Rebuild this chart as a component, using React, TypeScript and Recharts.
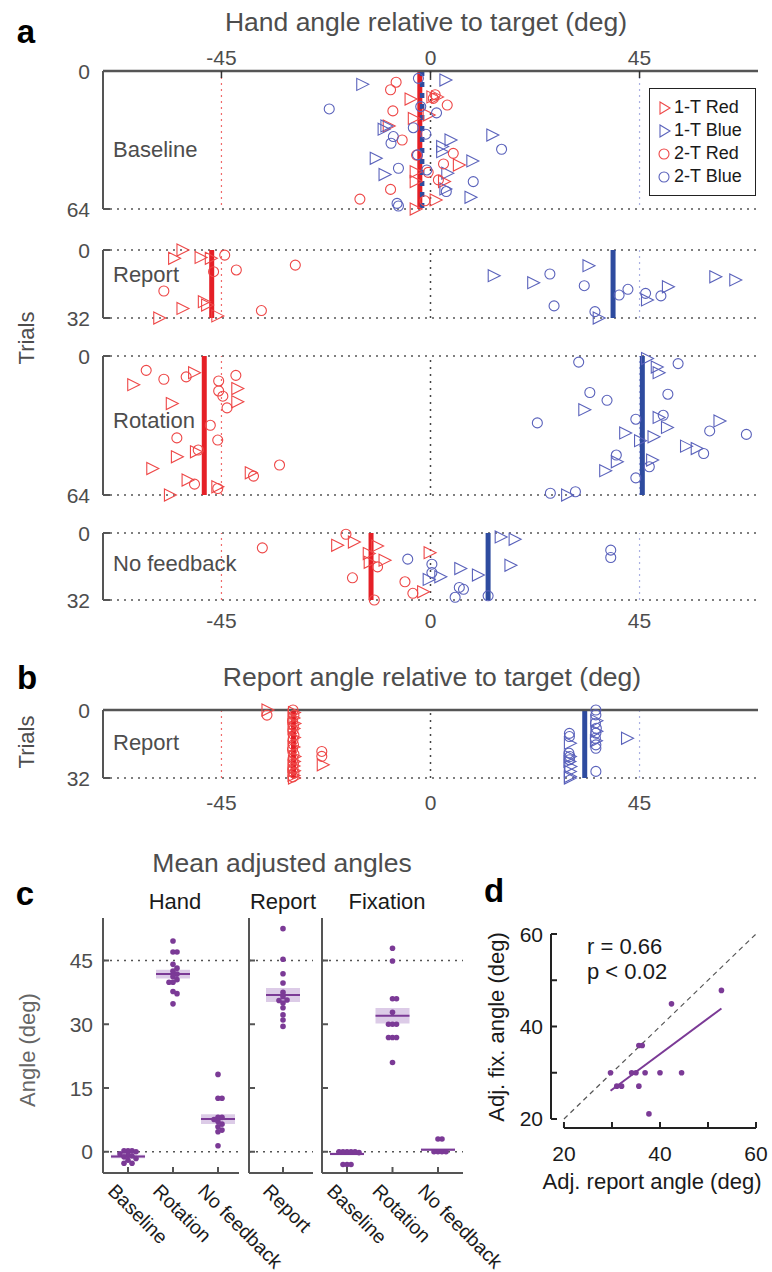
import React from 'react';
import {
  ScatterChart,
  Scatter,
  XAxis,
  YAxis,
  ReferenceLine,
  ReferenceArea,
  Legend,
} from 'recharts';

type Pt = [number, number]; // [angle (deg), trial]

// ---- panel a: hand angle per trial ----
const baseRedTri: Pt[] = [
  [-4.4, 13], [-3.7, 22], [0.3, 12], [1.3, 12], [-0.5, 20.4], [6, 43.6], [-3.3, 46.7],
  [-3.3, 51.3], [2.8, 51.3], [1, 59.8], [-3.3, 64], [-9.1, 25.5],
];
const baseBlueTri: Pt[] = [
  [-14.8, 6.2], [3.1, 4.2], [-9.6, 25.5], [-10.2, 27], [-11.9, 40.5], [-10, 48], [13.2, 29.7],
  [4.2, 32], [2.4, 35], [2.4, 37.4], [8.9, 41.7], [8.5, 58.6], [3.1, 54.7], [3.5, 47.4],
];
const baseRedCirc: Pt[] = [
  [-7.4, 5.2], [-8.6, 8.7], [-8.1, 18.5], [-6.1, 32], [4.9, 38.2], [2.8, 43.1], [1.7, 50.5],
  [-8.6, 54.9], [-15.2, 59.4], [3.6, 15.8], [1, 11], [0.6, 12.7], [-1.2, 60.2], [-3, 39], [-0.5, 47],
];
const baseBlueCirc: Pt[] = [
  [-21.8, 17.6], [-2.6, 3.4], [-2.1, 16.5], [1.3, 19.4], [-3.7, 26.3], [-8, 30.4], [-8.5, 33.5],
  [-1, 29.3], [-6.9, 45.1], [-0.8, 45.9], [-2.8, 38.9], [-7.2, 61.4], [-6.9, 62.6], [9.2, 51.3],
  [3.4, 55.9], [15.3, 36.3],
];

const repRedTri: Pt[] = [
  [-53.5, 0], [-55.3, 3.9], [-49.6, 3.5], [-47.4, 3.9], [-53.5, 27.5], [-48.9, 24.3], [-48.2, 25.9],
  [-58.5, 32], [-46, 31],
];
const repRedCirc: Pt[] = [[-44.3, 2.4], [-46.7, 10.2], [-41.8, 9.4], [-29.1, 7.1], [-57.4, 19.3], [-36.4, 28.5]];
const repBlueTri: Pt[] = [
  [13.5, 12.1], [22, 15.4], [33.9, 7.4], [46.5, 23.5], [51, 17.3], [61.2, 12.6], [65.5, 14.1], [36.1, 32],
];
const repBlueCirc: Pt[] = [
  [25.7, 11.3], [26.6, 26.3], [33.1, 16.8], [35.4, 29], [40.6, 21.2], [42.5, 18.5], [46.3, 20.4], [49.6, 21.6],
];

const rotRedTri: Pt[] = [
  [-64.1, 13.2], [-55.8, 21.9], [-51, 7.7], [-41.7, 15], [-41.7, 21.1], [-54.7, 46.4], [-60, 51.8],
  [-50.6, 44.1], [-52.4, 57.1], [-38.8, 53.8], [-56.2, 64], [-46, 60.2],
];
const rotRedCirc: Pt[] = [
  [-61.2, 6.6], [-57.4, 10.7], [-52.6, 9.6], [-45.6, 11.5], [-45.6, 16.1], [-44.7, 18.5], [-41.9, 8.9],
  [-43.8, 23.9], [-47.4, 31.9], [-54.6, 37.7], [-45.8, 38.7], [-50, 43.3], [-32.5, 50.2], [-38.1, 55.3],
  [-50.8, 59], [-45.8, 61],
];
const rotBlueTri: Pt[] = [
  [46.5, 1.2], [48.6, 5.1], [49, 7.7], [33, 24.7], [41.8, 35.4], [49, 28.3], [50.8, 32.9], [47.9, 37.2],
  [62.1, 29.9], [54.9, 41.5], [57.2, 42.6], [47.6, 47.9], [40, 48.7], [37.5, 52.8], [29.3, 64], [45, 39],
];
const rotBlueCirc: Pt[] = [
  [31.9, 2.8], [53.3, 3.5], [34.3, 16.8], [38, 20.4], [51.1, 17.6], [23, 30.8], [44.2, 29.1], [50.1, 27.3],
  [60.1, 34.5], [68, 36.1], [40, 45.6], [58.8, 44.9], [47.1, 51], [44.2, 56.1], [25.8, 63.2], [31.2, 62.5],
];

const nfRedTri: Pt[] = [
  [-20.2, 5.9], [-16.6, 4.3], [-11.6, 6.2], [-0.3, 9.4], [-13.4, 9.8], [-10, 13], [-1.7, 28.1], [-13.2, 14],
];
const nfRedCirc: Pt[] = [[-18.2, 0.6], [-36.2, 7.1], [-16.8, 21.4], [-11.4, 16.2], [-5.5, 23.3], [-3.8, 28.8], [-12.1, 32]];
const nfBlueTri: Pt[] = [[15, 1.9], [18, 3], [6.3, 17], [10.1, 20.1], [17.1, 15.4], [2, 20.9], [-0.5, 22.2]];
const nfBlueCirc: Pt[] = [
  [-4.9, 12.5], [0.3, 18.9], [6.2, 26], [7.1, 26.9], [5.3, 30.7], [12.4, 30], [38.8, 8.2], [38.8, 11.7], [0.3, 14.9],
];

// block means: Baseline, Report, Rotation, No feedback
const handMeanRed = [-2.3, -47.1, -48.7, -12.8];
const handMeanBlue = [-1.8, 39.3, 45.6, 12.4];

// ---- panel b: report angle ----
const bRedCirc: Pt[] = [
  [-29.6, 0], [-29.4, 2.5], [-29.7, 5], [-29.5, 7.2], [-29.6, 9.5], [-29.4, 11.8], [-29.6, 14], [-29.5, 16.3],
  [-29.7, 18.5], [-29.4, 20.8], [-29.6, 23], [-29.5, 25.3], [-29.6, 27.5], [-29.4, 29.7], [-29.6, 31.5],
  [-35.2, 2.4], [-23.4, 19.5], [-23.4, 21.8],
];
const bRedTri: Pt[] = [
  [-29.5, 1.2], [-29.6, 3.8], [-29.4, 6.3], [-29.6, 8.7], [-29.5, 12.9], [-29.6, 17.4], [-29.4, 21.9],
  [-29.5, 24.2], [-29.6, 26.4], [-29.5, 28.6], [-29.6, 30.8], [-29.5, 32], [-35.2, 0], [-23.3, 25.8],
];
const bBlueCirc: Pt[] = [
  [35.6, 0], [35.6, 2.3], [35.5, 6.2], [35.7, 8.6], [35.6, 10.9], [35.5, 13.3], [35.6, 16.4], [35.6, 18],
  [35.6, 28.9], [29.9, 11], [29.9, 12.5], [29.8, 20.3], [30, 21.9], [29.9, 23.4],
];
const bBlueTri: Pt[] = [
  [29.9, 15.6], [29.9, 21.9], [29.8, 24.2], [30, 26.6], [29.9, 28.9], [29.9, 31.3], [29.9, 32],
  [35.6, 5], [35.6, 10], [35.5, 14.5], [42.2, 13.3],
];
const reportMeanRed = -29.5;
const reportMeanBlue = 33.2;

// ---- panel c: mean adjusted angles per participant ----
const handCats = ['Baseline', 'Rotation', 'No feedback'];
const handBaseline = [-0.8, -1.2, 0.2, 0.2, 0.2, -1.6, -2.7, -2.7, -1.0, -0.5, -2.0, 0.0];
const handRotation = [49.6, 47, 47, 44.1, 43.2, 41.8, 41.2, 40.5, 39.9, 39.9, 37.2, 37.7, 34.8, 42.5];
const handNoFb = [18.2, 12.6, 12.6, 8.1, 8.1, 7.1, 5.9, 5.1, 4.7, 1.4, 6.5, 7.6];
const handMeans = [-1.1, 41.8, 7.7];
const handSems = [0.4, 1.05, 1.15];

const reportCats = ['Report'];
const reportVals = [52.5, 45.3, 41.9, 39.7, 37.5, 35.7, 35.6, 35, 33.9, 32.2, 31, 29.5, 36.5];
const reportMeans = [36.9];
const reportSems = [1.65];

const fixCats = ['Baseline', 'Rotation', 'No feedback'];
const fixBaseline = [0, 0, 0, 0, 0, -3, -3, -3, -0.2];
const fixRotation = [47.9, 44.9, 36, 36, 32.8, 30, 30, 30, 26.9, 26.9, 26.9, 21];
const fixNoFb = [3, 3, 0, 0, 0, 0];
const fixMeans = [-0.5, 32, 0.5];
const fixSems = [0.35, 1.85, 0.3];

// ---- panel d: report vs fixation ----
const dReport = [29.7, 31, 32, 34.1, 35, 35.6, 36.3, 35.6, 36.9, 37.7, 40, 42.4, 44.5, 52.8];
const dFix = [30, 27.1, 27.1, 30, 30, 35.9, 35.9, 27.1, 30, 21.1, 30, 44.9, 30, 47.8];
const fitX = [29.7, 52.8];
const fitY = [26.1, 43.9];

const legendOrder = ['1-T Red', '1-T Blue', '2-T Red', '2-T Blue'];

const RED = '#ee4747';
const BLUE = '#5a62bb';
const RED_MEAN = '#e51f26';
const BLUE_MEAN = '#2e4b9f';
const PURPLE = '#7b3a96';
const BAND = '#dccbe7';
const GRAY = '#4d4d4d';
const INK = '#1a1a1a';
const FONT = '"Liberation Sans", Arial, Helvetica, sans-serif';
const HAND_DOMAIN: [number, number] = [-70.5, 70.5];

const toXY = (pts: Pt[]) => pts.map(([x, y]) => ({ x, y }));

function Txt({ x, y, size = 22, color = GRAY, anchor = 'middle', rotate = 0, bold = false, children }: any) {
  const tx = anchor === 'middle' ? '-50%' : anchor === 'end' ? '-100%' : '0';
  return (
    <div
      style={{
        position: 'absolute',
        left: x,
        top: y,
        transform: `translate(${tx}, -50%) rotate(${rotate}deg)`,
        fontSize: size,
        lineHeight: 1,
        color,
        whiteSpace: 'nowrap',
        fontWeight: bold ? 700 : 400,
      }}
    >
      {children}
    </div>
  );
}

const triShape = (color: string) => (p: any) => (
  <path
    d={`M${p.cx - 5},${p.cy - 6} L${p.cx + 7},${p.cy} L${p.cx - 5},${p.cy + 6} Z`}
    fill="none"
    stroke={color}
    strokeWidth={1.1}
  />
);
const circShape = (color: string) => (p: any) => (
  <circle cx={p.cx} cy={p.cy} r={5} fill="none" stroke={color} strokeWidth={1.1} />
);
const dotShape = (p: any) => <circle cx={p.cx} cy={p.cy} r={2.8} fill={PURPLE} />;

function LegendBox({ payload }: any) {
  const entries = legendOrder.filter((n) => (payload || []).some((e: any) => e.value === n));
  return (
    <div
      style={{
        border: '1.5px solid #222',
        background: '#fff',
        padding: '7px 4px 7px 7px',
        fontFamily: FONT,
        boxSizing: 'border-box',
      }}
    >
      {entries.map((name) => {
        const c = name.includes('Red') ? RED : BLUE;
        return (
          <div key={name} style={{ display: 'flex', alignItems: 'center', height: 23, fontSize: 18, color: INK }}>
            <svg width={15} height={16} style={{ marginRight: 2 }}>
              {name.startsWith('1-T') ? (
                <path d="M3,2 L13,8 L3,14 Z" fill="none" stroke={c} strokeWidth={1.1} />
              ) : (
                <circle cx={7} cy={8} r={5} fill="none" stroke={c} strokeWidth={1.1} />
              )}
            </svg>
            {name}
          </div>
        );
      })}
    </div>
  );
}

interface TrialProps {
  top: number;
  bottom: number;
  maxTrial: number;
  redTri: Pt[];
  blueTri: Pt[];
  redCirc: Pt[];
  blueCirc: Pt[];
  meanR: number;
  meanB: number;
  topAxis?: 'labels' | 'ticks';
  bottomGap?: number;
  dottedTop?: boolean;
  legend?: boolean;
  blueDashed?: boolean;
}

function TrialPanel(props: TrialProps) {
  const { top, bottom, maxTrial, topAxis, bottomGap } = props;
  const mt = topAxis ? 10 : 40;
  const mb = bottomGap ? 10 : 40;
  const topTick = (labels: boolean) => (p: any) => (
    <g>
      <line x1={p.x} x2={p.x} y1={p.y} y2={p.y + 7} stroke="#333" strokeWidth={1.5} />
      {labels && (
        <text x={p.x} y={p.y - 14} textAnchor="middle" dominantBaseline="central" fontSize={21} fill={GRAY}>
          {p.payload.value}
        </text>
      )}
    </g>
  );
  const bottomTick = (p: any) => (
    <text x={p.x} y={p.y + (bottomGap || 0)} textAnchor="middle" dominantBaseline="central" fontSize={21} fill={GRAY}>
      {p.payload.value}
    </text>
  );
  const yTick = (p: any) => (
    <g>
      <line x1={p.x} x2={p.x + 7} y1={p.y} y2={p.y} stroke="#555" strokeWidth={2} />
      <text x={p.x - 13} y={p.y} textAnchor="end" dominantBaseline="central" fontSize={21} fill={GRAY}>
        {p.payload.value}
      </text>
    </g>
  );
  const axisCommon = {
    type: 'number' as const,
    dataKey: 'x',
    domain: HAND_DOMAIN,
    ticks: [-45, 0, 45],
    interval: 0 as const,
    tickSize: 0,
    tickMargin: 0,
    tickLine: false,
    height: 30,
  };
  const dotted = { stroke: '#555', strokeDasharray: '2 5', strokeWidth: 1.5 };
  return (
    <div style={{ position: 'absolute', left: 0, top: top - 40 }}>
      <ScatterChart width={772} height={bottom - top + 80} margin={{ top: mt, bottom: mb, left: 63, right: 14 }}>
        {topAxis === 'labels' ? (
          <XAxis {...axisCommon} orientation="top" tick={topTick(true)} axisLine={{ stroke: '#555', strokeWidth: 2.5 }} />
        ) : bottomGap ? (
          <XAxis {...axisCommon} orientation="bottom" tick={bottomTick} axisLine={false} />
        ) : (
          <XAxis {...axisCommon} hide />
        )}
        {topAxis === 'ticks' && (
          <XAxis
            {...axisCommon}
            xAxisId="top"
            orientation="top"
            tick={topTick(false)}
            axisLine={{ stroke: '#555', strokeWidth: 2.5 }}
          />
        )}
        <YAxis
          type="number"
          dataKey="y"
          domain={[0, maxTrial]}
          reversed
          ticks={[0, maxTrial]}
          interval={0}
          width={40}
          tickSize={0}
          tickMargin={0}
          tickLine={false}
          tick={yTick}
          axisLine={{ stroke: '#555', strokeWidth: 2 }}
        />
        <ReferenceLine x={-45} stroke="#f06a6a" strokeDasharray="2 4" strokeWidth={1.2} />
        <ReferenceLine x={0} stroke="#444" strokeDasharray="2 5" strokeWidth={1.5} />
        <ReferenceLine x={45} stroke="#aab0e2" strokeDasharray="2 4" strokeWidth={1.2} />
        <ReferenceLine y={maxTrial} {...dotted} />
        {props.dottedTop && <ReferenceLine y={0} {...dotted} />}
        <Scatter name="1-T Red" data={toXY(props.redTri)} shape={triShape(RED)} fill={RED} isAnimationActive={false} />
        <Scatter name="1-T Blue" data={toXY(props.blueTri)} shape={triShape(BLUE)} fill={BLUE} isAnimationActive={false} />
        <Scatter name="2-T Red" data={toXY(props.redCirc)} shape={circShape(RED)} fill={RED} isAnimationActive={false} />
        <Scatter name="2-T Blue" data={toXY(props.blueCirc)} shape={circShape(BLUE)} fill={BLUE} isAnimationActive={false} />
        <ReferenceLine x={props.meanR} stroke={RED_MEAN} strokeWidth={5} />
        <ReferenceLine
          x={props.meanB}
          stroke={BLUE_MEAN}
          strokeWidth={props.blueDashed ? 4.5 : 5}
          strokeDasharray={props.blueDashed ? '5 6' : undefined}
        />
        {props.legend && (
          <Legend
            layout="horizontal"
            verticalAlign="middle"
            align="center"
            content={LegendBox}
            wrapperStyle={{ left: 649, top: 88 - (top - 40), width: 107 }}
          />
        )}
      </ScatterChart>
    </div>
  );
}

// simple beeswarm: spread equal / near-equal values sideways (pixels)
function swarm(vals: number[], center: number, pxX: number, pxY: number) {
  const placed: { dx: number; py: number }[] = [];
  const out: { x: number; y: number }[] = [];
  for (const v of [...vals].sort((a, b) => b - a)) {
    const py = v * pxY;
    let k = 0;
    let dx = 0;
    for (;;) {
      dx = (k % 2 ? 1 : -1) * Math.ceil(k / 2) * 4;
      if (!placed.some((p) => Math.hypot(p.dx - dx, p.py - py) < 4)) break;
      k++;
    }
    placed.push({ dx, py });
    out.push({ x: center + dx / pxX, y: v });
  }
  return out;
}

const C_TOP = 918;
const C_BOTTOM = 1173;
const C_DOMAIN: [number, number] = [-5, 55];

function AnglePanel({ left, right, domain, cats, groups, means, sems, labels }: any) {
  const pxX = (right - left) / (domain[1] - domain[0]);
  const pxY = (C_BOTTOM - C_TOP) / (C_DOMAIN[1] - C_DOMAIN[0]);
  const half = 17 / pxX;
  const xTick = (p: any) => {
    const lx = p.x - 11;
    const ly = p.y + 9;
    return (
      <g>
        <line x1={p.x} x2={p.x} y1={p.y} y2={p.y - 6} stroke="#555" strokeWidth={2} />
        <text
          x={lx}
          y={ly}
          transform={`rotate(45 ${lx} ${ly})`}
          dominantBaseline="hanging"
          fontSize={19.5}
          fill={INK}
        >
          {cats[p.payload.value - 1]}
        </text>
      </g>
    );
  };
  const yTick = (p: any) => (
    <g>
      <line x1={p.x} x2={p.x + 6} y1={p.y} y2={p.y} stroke="#555" strokeWidth={2} />
      {labels && (
        <text x={p.x - 10} y={p.y} textAnchor="end" dominantBaseline="central" fontSize={21} fill={GRAY}>
          {p.payload.value}
        </text>
      )}
    </g>
  );
  const dotted = { stroke: '#555', strokeDasharray: '2 5', strokeWidth: 1.5 };
  return (
    <div style={{ position: 'absolute', left: 0, top: 880 }}>
      <ScatterChart
        width={772}
        height={392}
        margin={{ top: C_TOP - 880, bottom: 1272 - C_BOTTOM - 30, left: left - 40, right: 772 - right }}
      >
        <XAxis
          type="number"
          dataKey="x"
          domain={domain}
          ticks={cats.map((_: string, i: number) => i + 1)}
          interval={0}
          height={30}
          tickSize={0}
          tickMargin={0}
          tickLine={false}
          tick={xTick}
          axisLine={{ stroke: '#555', strokeWidth: 2 }}
        />
        <YAxis
          type="number"
          dataKey="y"
          domain={C_DOMAIN}
          ticks={[0, 15, 30, 45]}
          interval={0}
          width={40}
          tickSize={0}
          tickMargin={0}
          tickLine={false}
          tick={yTick}
          axisLine={{ stroke: '#555', strokeWidth: 2 }}
        />
        <ReferenceLine y={45} {...dotted} />
        <ReferenceLine y={0} {...dotted} />
        {means.map((m: number, i: number) => (
          <ReferenceArea
            key={`b${i}`}
            x1={i + 1 - half}
            x2={i + 1 + half}
            y1={m - sems[i]}
            y2={m + sems[i]}
            fill={BAND}
            fillOpacity={1}
            stroke="none"
          />
        ))}
        {groups.map((vals: number[], i: number) => (
          <Scatter key={`s${i}`} data={swarm(vals, i + 1, pxX, pxY)} shape={dotShape} isAnimationActive={false} />
        ))}
        {means.map((m: number, i: number) => (
          <ReferenceLine
            key={`m${i}`}
            segment={[{ x: i + 1 - half, y: m }, { x: i + 1 + half, y: m }]}
            stroke={PURPLE}
            strokeWidth={2}
          />
        ))}
      </ScatterChart>
    </div>
  );
}

const D_X: [number, number] = [17.3, 60];
const D_Y: [number, number] = [18.05, 60];

function CorrPanel() {
  const data = dReport.map((x, i) => ({ x, y: dFix[i] }));
  const yTick = (p: any) => (
    <g>
      <line x1={p.x} x2={p.x + 6} y1={p.y} y2={p.y} stroke="#222" strokeWidth={2} />
      {p.payload.value % 20 === 0 && (
        <text x={p.x - 8} y={p.y} textAnchor="end" dominantBaseline="central" fontSize={21} fill={INK}>
          {p.payload.value}
        </text>
      )}
    </g>
  );
  const xTick = (p: any) => (
    <g>
      <line x1={p.x} x2={p.x} y1={p.y} y2={p.y - 6} stroke="#222" strokeWidth={2} />
      {p.payload.value % 20 === 0 && (
        <text x={p.x} y={p.y + 25} textAnchor="middle" dominantBaseline="central" fontSize={21} fill={INK}>
          {p.payload.value}
        </text>
      )}
    </g>
  );
  return (
    <div style={{ position: 'absolute', left: 0, top: 880 }}>
      <ScatterChart width={772} height={392} margin={{ top: 54, bottom: 1272 - 1128 - 30, left: 511, right: 16 }}>
        <XAxis
          type="number"
          dataKey="x"
          domain={D_X}
          ticks={[20, 30, 40, 50, 60]}
          interval={0}
          height={30}
          tickSize={0}
          tickMargin={0}
          tickLine={false}
          axisLine={false}
          tick={xTick}
        />
        <YAxis
          type="number"
          dataKey="y"
          domain={D_Y}
          ticks={[20, 30, 40, 50, 60]}
          interval={0}
          width={40}
          tickSize={0}
          tickMargin={0}
          tickLine={false}
          axisLine={false}
          tick={yTick}
        />
        <ReferenceLine segment={[{ x: D_X[0], y: 20 }, { x: D_X[0], y: 60 }]} stroke="#222" strokeWidth={2} />
        <ReferenceLine segment={[{ x: 20, y: D_Y[0] }, { x: 60, y: D_Y[0] }]} stroke="#222" strokeWidth={2} />
        <ReferenceLine segment={[{ x: 20, y: 20 }, { x: 60, y: 60 }]} stroke="#555" strokeDasharray="5 4" strokeWidth={1.2} />
        <Scatter data={data} shape={dotShape} isAnimationActive={false} />
        <ReferenceLine
          segment={[{ x: fitX[0], y: fitY[0] }, { x: fitX[1], y: fitY[1] }]}
          stroke={PURPLE}
          strokeWidth={2}
        />
      </ScatterChart>
    </div>
  );
}

export default function App() {
  return (
    <div
      style={{
        position: 'absolute',
        left: 0,
        top: 0,
        width: 772,
        height: 1272,
        background: '#fff',
        fontFamily: FONT,
        overflow: 'hidden',
      }}
    >
      {/* a */}
      <Txt x={26} y={31} size={33} bold color="#000">a</Txt>
      <Txt x={426} y={22} size={26.5}>Hand angle relative to target (deg)</Txt>
      <Txt x={27} y={338} rotate={-90}>Trials</Txt>
      <TrialPanel
        top={71} bottom={209} maxTrial={64}
        redTri={baseRedTri} blueTri={baseBlueTri} redCirc={baseRedCirc} blueCirc={baseBlueCirc}
        meanR={handMeanRed[0]} meanB={handMeanBlue[0]} topAxis="labels" legend blueDashed
      />
      <TrialPanel
        top={250} bottom={318} maxTrial={32} dottedTop
        redTri={repRedTri} blueTri={repBlueTri} redCirc={repRedCirc} blueCirc={repBlueCirc}
        meanR={handMeanRed[1]} meanB={handMeanBlue[1]}
      />
      <TrialPanel
        top={356} bottom={495} maxTrial={64} dottedTop
        redTri={rotRedTri} blueTri={rotBlueTri} redCirc={rotRedCirc} blueCirc={rotBlueCirc}
        meanR={handMeanRed[2]} meanB={handMeanBlue[2]}
      />
      <TrialPanel
        top={533} bottom={600} maxTrial={32} dottedTop bottomGap={20}
        redTri={nfRedTri} blueTri={nfBlueTri} redCirc={nfRedCirc} blueCirc={nfBlueCirc}
        meanR={handMeanRed[3]} meanB={handMeanBlue[3]}
      />
      <Txt x={113} y={150} anchor="start">Baseline</Txt>
      <Txt x={113} y={275} anchor="start">Report</Txt>
      <Txt x={113} y={421} anchor="start">Rotation</Txt>
      <Txt x={113} y={564} anchor="start">No feedback</Txt>

      {/* b */}
      <Txt x={27} y={677} size={33} bold color="#000">b</Txt>
      <Txt x={432} y={677} size={26.5}>Report angle relative to target (deg)</Txt>
      <Txt x={27} y={742} rotate={-90}>Trials</Txt>
      <TrialPanel
        top={710} bottom={778} maxTrial={32} topAxis="ticks" bottomGap={24}
        redTri={bRedTri} blueTri={bBlueTri} redCirc={bRedCirc} blueCirc={bBlueCirc}
        meanR={reportMeanRed} meanB={reportMeanBlue}
      />
      <Txt x={113} y={743} anchor="start">Report</Txt>

      {/* c */}
      <Txt x={282} y={863} size={26.5}>Mean adjusted angles</Txt>
      <Txt x={25} y={893} size={33} bold color="#000">c</Txt>
      <Txt x={175} y={902} color={INK}>Hand</Txt>
      <Txt x={283} y={902} color={INK}>Report</Txt>
      <Txt x={387} y={902} color={INK}>Fixation</Txt>
      <Txt x={28} y={1050} rotate={-90} color="#666">Angle (deg)</Txt>
      <AnglePanel
        left={103} right={239} domain={[0.444, 3.467]} cats={handCats} labels
        groups={[handBaseline, handRotation, handNoFb]} means={handMeans} sems={handSems}
      />
      <AnglePanel
        left={249} right={313} domain={[0.244, 1.667]} cats={reportCats}
        groups={[reportVals]} means={reportMeans} sems={reportSems}
      />
      <AnglePanel
        left={322} right={463} domain={[0.45, 3.55]} cats={fixCats}
        groups={[fixBaseline, fixRotation, fixNoFb]} means={fixMeans} sems={fixSems}
      />

      {/* d */}
      <Txt x={494} y={890} size={33} bold color="#000">d</Txt>
      <CorrPanel />
      <Txt x={587} y={947} anchor="start" color={INK}>r = 0.66</Txt>
      <Txt x={587} y={972} anchor="start" color={INK}>p &lt; 0.02</Txt>
      <Txt x={497} y={1027} rotate={-90} color={INK}>Adj. fix. angle (deg)</Txt>
      <Txt x={652} y={1182} color={INK}>Adj. report angle (deg)</Txt>
    </div>
  );
}
